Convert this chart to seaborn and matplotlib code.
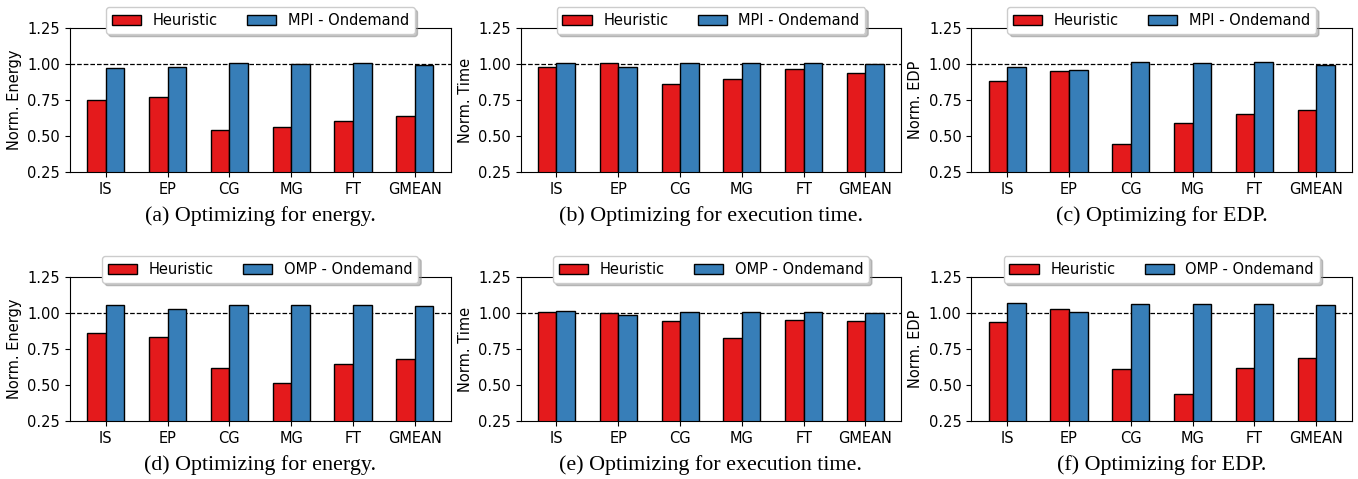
import pandas as pd
import matplotlib
matplotlib.use("Agg")
import matplotlib.pyplot as plt
import seaborn as sns

benchmarks = ["IS", "EP", "CG", "MG", "FT", "GMEAN"]

# MPI row (top)
mpi_energy_heur = [0.753, 0.774, 0.539, 0.562, 0.606, 0.640]
mpi_energy_ond = [0.973, 0.980, 1.010, 1.003, 1.010, 0.996]
mpi_time_heur = [0.980, 1.005, 0.862, 0.894, 0.966, 0.940]
mpi_time_ond = [1.007, 0.980, 1.007, 1.007, 1.007, 1.000]
mpi_edp_heur = [0.880, 0.954, 0.444, 0.592, 0.656, 0.682]
mpi_edp_ond = [0.980, 0.959, 1.014, 1.007, 1.014, 0.996]

# OMP row (bottom)
omp_energy_heur = [0.863, 0.836, 0.620, 0.516, 0.644, 0.683]
omp_energy_ond = [1.058, 1.028, 1.058, 1.058, 1.053, 1.051]
omp_time_heur = [1.005, 1.000, 0.947, 0.829, 0.954, 0.944]
omp_time_ond = [1.012, 0.984, 1.007, 1.005, 1.005, 1.002]
omp_edp_heur = [0.940, 1.025, 0.613, 0.435, 0.620, 0.690]
omp_edp_ond = [1.072, 1.009, 1.062, 1.062, 1.060, 1.053]

ylabels = ["Norm. Energy", "Norm. Time", "Norm. EDP"]
captions = [
    "(a) Optimizing for energy.", "(b) Optimizing for execution time.", "(c) Optimizing for EDP.",
    "(d) Optimizing for energy.", "(e) Optimizing for execution time.", "(f) Optimizing for EDP.",
]

panels = [
    ("MPI - Ondemand", mpi_energy_heur, mpi_energy_ond),
    ("MPI - Ondemand", mpi_time_heur, mpi_time_ond),
    ("MPI - Ondemand", mpi_edp_heur, mpi_edp_ond),
    ("OMP - Ondemand", omp_energy_heur, omp_energy_ond),
    ("OMP - Ondemand", omp_time_heur, omp_time_ond),
    ("OMP - Ondemand", omp_edp_heur, omp_edp_ond),
]

plt.rcParams["font.family"] = ["DejaVu Sans"]
plt.rcParams["font.size"] = 10.5

fig, axes = plt.subplots(2, 3, figsize=(13.58, 4.79), dpi=100)
fig.subplots_adjust(left=0.0515, right=0.9956, top=0.9415, bottom=0.121,
                    wspace=0.184, hspace=0.729)

for i, (ax, (base_name, heur, ond)) in enumerate(zip(axes.flat, panels)):
    df = pd.DataFrame({
        "benchmark": benchmarks * 2,
        "value": heur + ond,
        "config": ["Heuristic"] * len(benchmarks) + [base_name] * len(benchmarks),
    })
    sns.barplot(data=df, x="benchmark", y="value", hue="config",
                palette=["#e41a1c", "#377eb8"], saturation=1, width=0.6,
                edgecolor="black", linewidth=1.0, ax=ax)
    # reference line at 1.0
    ax.axhline(1.0, color="black", linestyle="--", linewidth=0.9, zorder=0.5)
    ax.set_ylim(0.25, 1.25)
    ax.set_yticks([0.25, 0.50, 0.75, 1.00, 1.25])
    ax.set_xlim(-0.58, 5.58)
    ax.set_xlabel("")
    ax.set_ylabel(ylabels[i % 3])
    ax.legend(loc="upper center", bbox_to_anchor=(0.5, 1.145), borderaxespad=0,
              ncol=2, shadow={"color": "0.55", "alpha": 0.5}, framealpha=1,
              fontsize=10.5)
    ax.text(0.5, -44 / 144, captions[i], transform=ax.transAxes,
            ha="center", va="center", fontsize=15.8, family="Liberation Serif")

fig.savefig("out.png", dpi=100)
